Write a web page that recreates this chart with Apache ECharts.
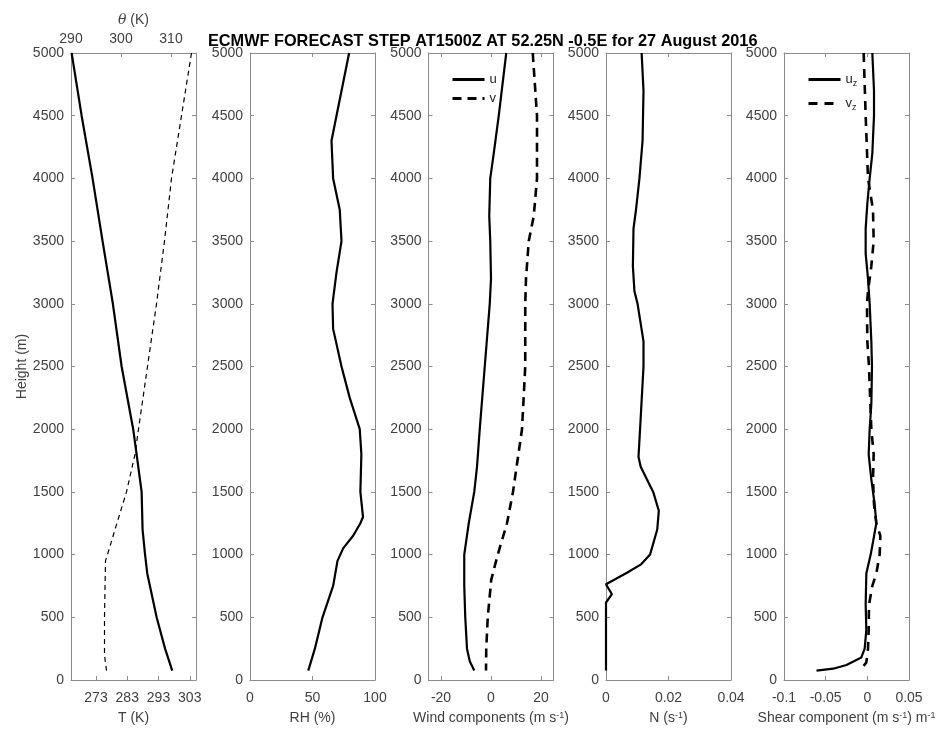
<!DOCTYPE html>
<html>
<head>
<meta charset="utf-8"/>
<title>ECMWF forecast profile</title>
<script src="https://cdn.jsdelivr.net/npm/echarts@6/dist/echarts.min.js"></script>
<style>
    html, body { margin: 0; padding: 0; background: #fff; }
    #main { width: 950px; height: 731px; }
</style>
</head>
<body>
<div id="main"></div>
<script>
    // profiles, heights in m
    var tempH  = [5000, 4500, 4000, 3500, 3000, 2500, 2000, 1800, 1500, 1200, 1000, 850, 500, 250, 75];
    var tempK  = [265.2, 268.4, 271.9, 275.1, 278.4, 281.2, 284.9, 286.0, 287.6, 287.9, 288.7, 289.4, 292.4, 295.1, 297.4];
    var thetaH = [5000, 4500, 4000, 3500, 3000, 2500, 2000, 1800, 1500, 1200, 1000, 950, 500, 200, 75];
    var thetaK = [314.1, 312.1, 310.1, 308.7, 307.1, 305.3, 303.5, 302.8, 301.1, 298.8, 297.3, 296.9, 296.7, 296.7, 297.1];

    var rhH = [5000, 4500, 4300, 4000, 3750, 3500, 3250, 3000, 2800, 2500, 2250, 2000, 1800, 1500, 1300, 1250, 1150, 1050, 950, 750, 500, 250, 75];
    var rh  = [79.3, 69.2, 65.2, 66.5, 71.8, 73.2, 69.2, 66, 66.5, 73.2, 79.8, 87.8, 89.1, 88.3, 90.4, 88.3, 82.5, 74.5, 70, 66.5, 58, 51.9, 46.6];

    var uH = [5000, 4500, 4200, 4000, 3700, 3500, 3200, 3000, 2500, 2000, 1700, 1500, 1250, 1000, 750, 500, 250, 150, 75];
    var u  = [6.1, 3.1, 1.1, -0.3, -0.7, -0.3, 0, -0.5, -2.5, -4.5, -5.6, -6.7, -8.9, -10.7, -10.7, -10.3, -9.6, -8.5, -6.7];
    var vH = [5000, 4500, 4000, 3700, 3500, 3200, 3000, 2500, 2000, 1500, 1250, 1000, 800, 500, 250, 75];
    var v  = [16.7, 18.4, 18.4, 17.1, 15.1, 14, 13.7, 13.7, 12.4, 8.8, 6.4, 2.7, 0.1, -1.3, -1.9, -2];

    var nH = [5000, 4700, 4300, 4000, 3750, 3600, 3300, 3100, 3000, 2700, 2500, 2000, 1780, 1700, 1500, 1350, 1200, 1000, 920, 855, 790, 763, 684, 618, 75];
    var bvf = [0.0114, 0.012, 0.0117, 0.0107, 0.0096, 0.0088, 0.0086, 0.0091, 0.0101, 0.012, 0.012, 0.0109, 0.0104, 0.0111, 0.0151, 0.0169, 0.0164, 0.0141, 0.0111, 0.0067, 0.0019, 0, 0.0019, 0, 0];

    var uzH = [5000, 4700, 4500, 4200, 4000, 3800, 3600, 3400, 3200, 3000, 2700, 2500, 2200, 2000, 1800, 1600, 1400, 1250, 1100, 1000, 850, 600, 400, 250, 180, 120, 90, 75];
    var uz  = [0.006, 0.008, 0.008, 0.006, 0.0028, 0, -0.002, -0.002, 0.0008, 0.0028, 0.0048, 0.0056, 0.0048, 0.0028, 0.0016, 0.0048, 0.0088, 0.0108, 0.0068, 0.004, -0.0012, -0.002, -0.0012, -0.0032, -0.0072, -0.025, -0.041, -0.061];
    var vzH = [5000, 4500, 4000, 3750, 3500, 3300, 3100, 3000, 2700, 2500, 2200, 2000, 1800, 1600, 1400, 1250, 1150, 1000, 850, 750, 600, 400, 250, 140, 100, 75];
    var vz  = [-0.0044, -0.002, 0.0008, 0.0068, 0.0076, 0.0048, 0.0008, -0.0004, 0, 0.002, 0.0036, 0.0048, 0.0076, 0.0068, 0.008, 0.0108, 0.0156, 0.0148, 0.0108, 0.006, 0.002, 0.0016, 0.0008, -0.0012, -0.006, -0.01];

    var tTicks = [273, 283, 293, 303];
    var thetaTicks = [290, 300, 310];
    var windTicks = [-20, 0, 20];

    var axisColor = '#8c8c8c';
    var textColor = '#404040';
    var font = '"Liberation Sans", Arial, sans-serif';
    var gridLeft = [71, 250, 428.5, 606, 784];

    function pairs(vals, hs) {
        return vals.map(function (x, i) { return [x, hs[i]]; });
    }

    function axis(gi, pos, min, max, showLabel, more) {
        var a = {
            type: 'value', gridIndex: gi, position: pos, min: min, max: max,
            axisLine: { show: true, onZero: false, lineStyle: { color: axisColor, width: 1 } },
            axisTick: { show: true, inside: true, length: 4, lineStyle: { color: axisColor } },
            axisLabel: {
                show: showLabel, color: textColor, fontSize: 14, fontFamily: font,
                margin: pos === 'bottom' ? 11 : 7,
                formatter: function (val) { return String(val); }
            },
            splitLine: { show: false },
            nameTextStyle: {
                color: textColor, fontSize: 14, fontFamily: font,
                rich: {
                    sup: { fontSize: 9, fontFamily: font, color: textColor, verticalAlign: 'top', lineHeight: 8 },
                    it: { fontSize: 14, fontFamily: 'DejaVu Serif, serif', fontStyle: 'italic', color: textColor }
                }
            }
        };
        for (var k in more) {
            if (k === 'custom') {
                a.axisTick.customValues = more.custom;
                a.axisLabel.customValues = more.custom;
            } else {
                a[k] = more[k];
            }
        }
        return a;
    }

    function named(name, extra) {
        var o = { name: name, nameLocation: 'middle', nameGap: 31 };
        for (var k in extra) o[k] = extra[k];
        return o;
    }

    var xAxes = [
        axis(0, 'bottom', 265, 305, true, named('T (K)', { custom: tTicks })),
        axis(0, 'top', 290, 315, true, { custom: thetaTicks, name: '{it|θ} (K)', nameLocation: 'middle', nameGap: 25 }),
        axis(1, 'bottom', 0, 100, true, named('RH (%)', { interval: 50 })),
        axis(1, 'top', 0, 100, false, { interval: 50 }),
        axis(2, 'bottom', -25, 25, true, named('Wind components (m s{sup|-1})', { custom: windTicks })),
        axis(2, 'top', -25, 25, false, { custom: windTicks }),
        axis(3, 'bottom', 0, 0.04, true, named('N (s{sup|-1})', { interval: 0.02 })),
        axis(3, 'top', 0, 0.04, false, { interval: 0.02 }),
        axis(4, 'bottom', -0.1, 0.05, true, named('Shear component (m s{sup|-1}) m{sup|-1}', { interval: 0.05 })),
        axis(4, 'top', -0.1, 0.05, false, { interval: 0.05 })
    ];

    var yAxes = [];
    gridLeft.forEach(function (l, i) {
        var left = axis(i, 'left', 0, 5000, true, { interval: 500 });
        if (i === 0) {
            left.name = 'Height (m)';
            left.nameLocation = 'middle';
            left.nameGap = 41;
        }
        yAxes.push(left);
        yAxes.push(axis(i, 'right', 0, 5000, false, { interval: 500 }));
    });

    function line(name, xi, data, style) {
        return {
            name: name, type: 'line', xAxisIndex: xi, yAxisIndex: xi === 1 ? 0 : xi,
            data: data, symbol: 'none', showSymbol: false, smooth: false,
            lineStyle: style, itemStyle: { color: '#000' }, color: '#000'
        };
    }
    var solid = { color: '#000', width: 2.2, type: 'solid' };

    var myChart = echarts.init(document.getElementById('main'));
    var option = {
        animation: false,
        backgroundColor: '#fff',
        title: {
            text: 'ECMWF FORECAST STEP AT1500Z AT 52.25N -0.5E for 27 August 2016',
            left: 208, top: 34, padding: 0,
            textStyle: { fontSize: 16.3, fontWeight: 'bold', color: '#000', fontFamily: font }
        },
        grid: gridLeft.map(function (l) {
            return { left: l, top: 53, width: 125, height: 627, containLabel: false };
        }),
        legend: [
            {
                data: ['u', 'v'], orient: 'vertical', left: 446, top: 68,
                itemWidth: 32, itemHeight: 12, itemGap: 6,
                itemStyle: { opacity: 0 },
                lineStyle: { width: 3 },
                textStyle: { fontSize: 13, color: '#222', fontFamily: font }
            },
            {
                data: ['uz', 'vz'], orient: 'vertical', left: 802, top: 68,
                itemWidth: 32, itemHeight: 14, itemGap: 9,
                itemStyle: { opacity: 0 },
                lineStyle: { width: 3 },
                formatter: function (n) { return n.charAt(0) + '{sub|z}'; },
                textStyle: {
                    fontSize: 13, color: '#222', fontFamily: font,
                    rich: { sub: { fontSize: 9, color: '#222', fontFamily: font, verticalAlign: 'bottom', padding: [8, 0, 0, 0] } }
                }
            }
        ],
        xAxis: xAxes,
        yAxis: yAxes,
        series: [
            line('T', 0, pairs(tempK, tempH), solid),
            line('theta', 1, pairs(thetaK, thetaH), { color: '#000', width: 1.2, type: [5, 4] }),
            line('RH', 2, pairs(rh, rhH), solid),
            line('u', 4, pairs(u, uH), solid),
            line('v', 4, pairs(v, vH), { color: '#000', width: 2.6, type: [9, 6] }),
            line('N', 6, pairs(bvf, nH), solid),
            line('uz', 8, pairs(uz, uzH), solid),
            line('vz', 8, pairs(vz, vzH), { color: '#000', width: 2.6, type: [9, 7] })
        ]
    };
    myChart.setOption(option);
</script>
</body>
</html>
